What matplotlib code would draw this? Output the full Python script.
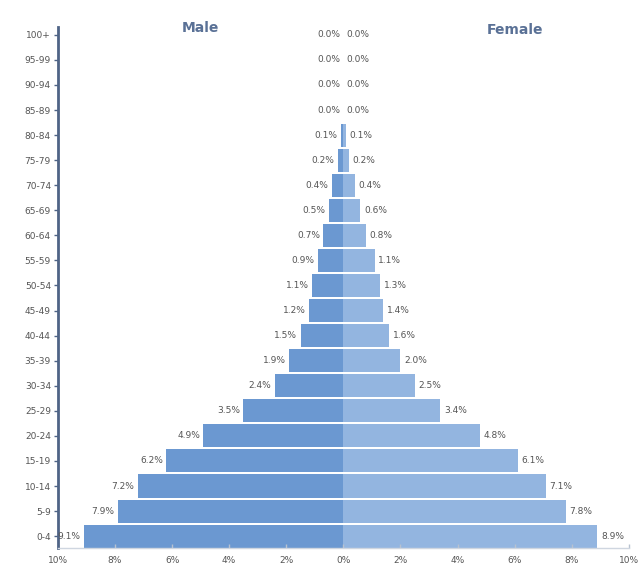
import matplotlib.pyplot as plt
import numpy as np

# age groups, bottom to top
age_groups = ['0-4', '5-9', '10-14', '15-19', '20-24', '25-29', '30-34', '35-39',
              '40-44', '45-49', '50-54', '55-59', '60-64', '65-69', '70-74',
              '75-79', '80-84', '85-89', '90-94', '95-99', '100+']
male = [9.1, 7.9, 7.2, 6.2, 4.9, 3.5, 2.4, 1.9, 1.5, 1.2, 1.1, 0.9, 0.7, 0.5, 0.4,
        0.2, 0.1, 0.0, 0.0, 0.0, 0.0]
female = [8.9, 7.8, 7.1, 6.1, 4.8, 3.4, 2.5, 2.0, 1.6, 1.4, 1.3, 1.1, 0.8, 0.6, 0.4,
          0.2, 0.1, 0.0, 0.0, 0.0, 0.0]
x_ticks = [-10, -8, -6, -4, -2, 0, 2, 4, 6, 8, 10]

male_color = '#6b98d1'
female_color = '#93b5e0'
text_color = '#555555'

fig = plt.figure(figsize=(6.43, 5.71), dpi=100)
ax = fig.add_axes([0.090, 0.040, 0.888, 0.913])

y = np.arange(len(age_groups))
ax.barh(y, [-v for v in male], height=0.92, color=male_color, edgecolor='none')
ax.barh(y, female, height=0.92, color=female_color, edgecolor='none')

# value labels next to each bar
for i in range(len(age_groups)):
    ax.text(-male[i] - 0.12, y[i], f'{male[i]:.1f}%', ha='right', va='center',
            fontsize=6.5, color=text_color)
    ax.text(female[i] + 0.12, y[i], f'{female[i]:.1f}%', ha='left', va='center',
            fontsize=6.5, color=text_color)

ax.set_xlim(-10, 10)
ax.set_ylim(-0.48, 20.32)
ax.set_yticks(y)
ax.set_yticklabels(age_groups, fontsize=6.5, color=text_color)
ax.set_xticks(x_ticks)
ax.set_xticklabels([f'{abs(v)}%' for v in x_ticks], fontsize=6.5, color=text_color)

for side in ['top', 'right']:
    ax.spines[side].set_visible(False)
ax.spines['left'].set_color('#4f6486')
ax.spines['left'].set_linewidth(2)
ax.spines['bottom'].set_color('#cfd6e0')
ax.spines['bottom'].set_linewidth(1)
ax.tick_params(axis='y', length=3, width=1, color='#4f6486', pad=2)
ax.tick_params(axis='x', length=3, width=1, color='#b8c2d0', direction='in', pad=6)

ax.text(0.25, 0.998, 'Male', transform=ax.transAxes, ha='center', va='center',
        fontsize=10, fontweight='bold', color='#5a7196')
ax.text(0.80, 0.994, 'Female', transform=ax.transAxes, ha='center', va='center',
        fontsize=10, fontweight='bold', color='#5a7196')

plt.savefig('out.png', dpi=100)
